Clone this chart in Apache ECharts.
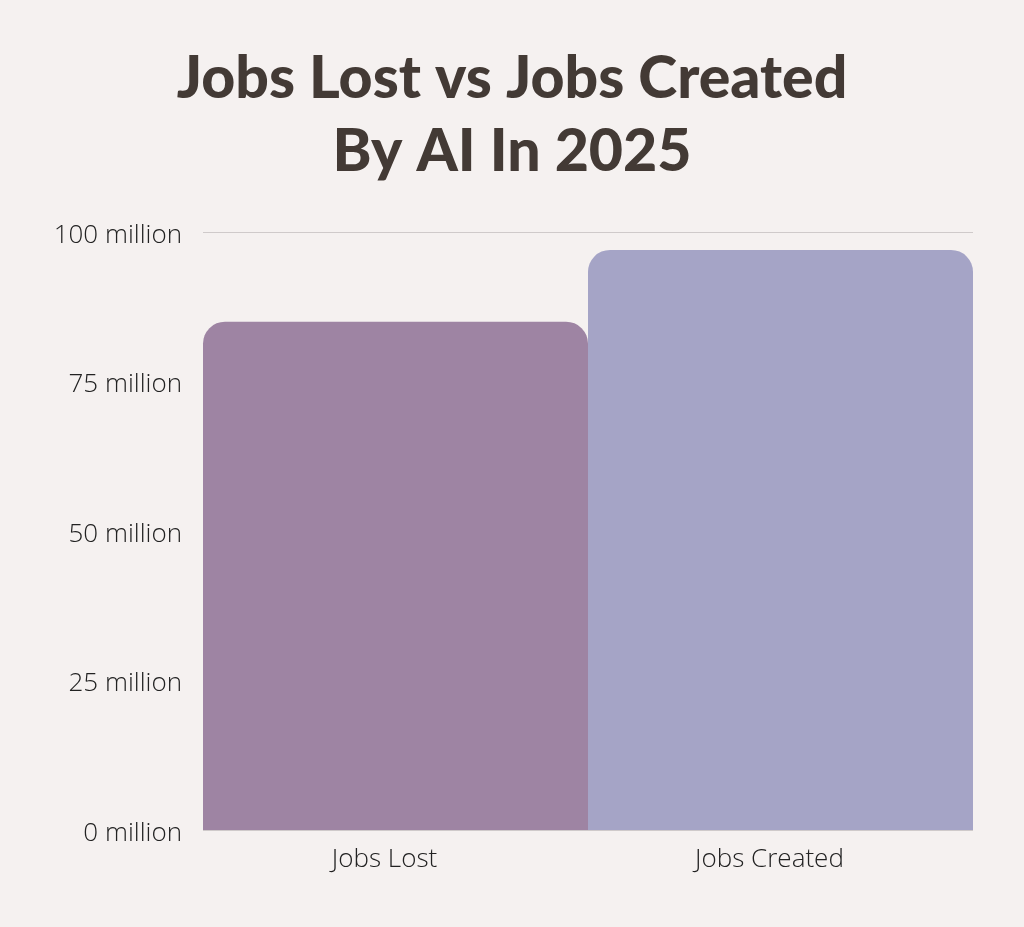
<!DOCTYPE html>
<html><head><meta charset="utf-8">
<script src="https://cdn.jsdelivr.net/npm/echarts@6/dist/echarts.min.js"></script>
<style>html,body{margin:0;padding:0;background:#f5f1f0;}#c{width:1024px;height:927px;}</style>
</head><body><div id="c"></div>
<script>
const categories = ["Jobs Lost", "Jobs Created"];
const values = [85, 97];
const barColors = ["#9e84a3", "#a5a4c6"];
const yTicks = [0, 25, 50, 75, 100];

const chart = echarts.init(document.getElementById('c'));
chart.setOption({
  backgroundColor: '#f5f1f0',
  animation: false,
  title: {
    text: 'Jobs Lost vs Jobs Created\nBy AI In 2025',
    left: 'center', top: 37,
    textStyle: { fontFamily: 'Lato', fontWeight: 900, fontSize: 59, lineHeight: 73, color: '#433a35' }
  },
  grid: { left: 203, right: 51, top: 232, bottom: 97 },
  xAxis: {
    type: 'category', data: categories,
    axisLine: { show: false }, axisTick: { show: false },
    axisLabel: { fontFamily: 'Open Sans', fontWeight: 300, fontSize: 26, color: '#222', margin: 17,
      padding: [0, 22, 0, 0] }
  },
  yAxis: {
    type: 'value', min: 0, max: 100, interval: 25,
    axisLine: { show: false }, axisTick: { show: false },
    splitLine: { lineStyle: { color: '#cfcaca', width: 1 } },
    axisLabel: { margin: 21,
      formatter: v => '{a|' + v + ' million}',
      rich: { a: { fontFamily: 'Open Sans', fontWeight: 300, fontSize: 26, color: '#222', padding: [7, 0, 0, 0] } } }
  },
  series: [{
    type: 'bar', barWidth: '100%', barCategoryGap: 0,
    data: values.map((v, i) => ({ value: v, itemStyle: { color: barColors[i] } })),
    itemStyle: { borderRadius: [22, 22, 0, 0] }
  }]
});
</script></body></html>
